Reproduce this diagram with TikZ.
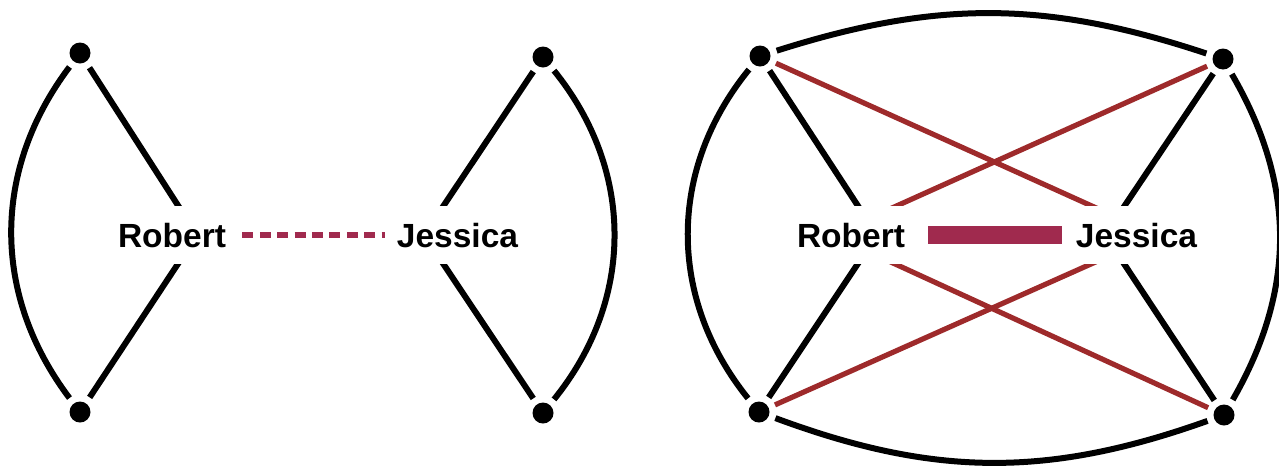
\documentclass[tikz,border=0pt]{standalone}
\usepackage{fontspec}
\setmainfont{Liberation Sans}
\usetikzlibrary{positioning}
\definecolor{tiecol}{HTML}{A02A4E}
\definecolor{bridgered}{HTML}{9E2A2B}
\newcommand{\namefont}{\fontsize{16.75}{20}\selectfont\bfseries}

\begin{document}
\begin{tikzpicture}[
  x=0.5pt,y=-0.5pt,
  friend/.style={circle,fill=black,inner sep=0pt,minimum size=10.5pt,outer sep=3.5pt},
  person/.style={fill=white,font=\namefont,text height=12.5pt,text depth=0pt,
                 inner xsep=6pt,inner ysep=0pt,minimum height=29pt},
  tie/.style={line width=3pt},
  bridge/.style={line width=2.6pt,draw=bridgered},
  weak/.style={line width=3pt,draw=tiecol,dash pattern=on 5.5pt off 3.2pt},
  strong/.style={line width=9pt,draw=tiecol}
]
\useasboundingbox (0,0) rectangle (1279,467);

% weak tie: two separate circles
\node[friend] (ra) at (80,53) {};
\node[friend] (rb) at (80,412) {};
\node[friend] (ja) at (543,57) {};
\node[friend] (jb) at (543,413) {};
\coordinate (rhub) at (197,235);
\coordinate (jhub) at (424,235);

\draw[tie] (ra) to[bend right=37] (rb);
\draw[tie] (ja) to[bend left=39] (jb);
\draw[tie] (ra) -- (rhub) -- (rb);
\draw[tie] (ja) -- (jhub) -- (jb);

\node[person] (rob) at (172,235) {Robert};
\node[person] (jes) at (457.5,235) {Jessica};
\draw[weak,shorten <=2pt] (rob) -- (jes);

% strong tie: one closed circle
\node[friend] (tl) at (760,56) {};
\node[friend] (tr) at (1223,59) {};
\node[friend] (bl) at (759,412) {};
\node[friend] (br) at (1224,415) {};
\coordinate (rob2hub) at (877,235);
\coordinate (jes2hub) at (1105,235);
\coordinate (rob2x) at (832,235);
\coordinate (jes2x) at (1156,235);

\draw[tie] (tl) to[bend left=18] (tr);
\draw[tie] (bl) to[bend right=20] (br);
\draw[tie] (tl) to[bend right=39] (bl);
\draw[tie] (tr) to[bend left=30] (br);
\draw[tie] (tl) -- (rob2hub) -- (bl);
\draw[tie] (tr) -- (jes2hub) -- (br);
\draw[bridge] (tl) -- (jes2x) -- (bl);
\draw[bridge] (tr) -- (rob2x) -- (br);

\node[person] (rob2) at (851,235) {Robert};
\node[person] (jes2) at (1136.5,235) {Jessica};
\draw[strong,shorten <=5.5pt,shorten >=1pt] (rob2) -- (jes2);
\end{tikzpicture}
\end{document}
